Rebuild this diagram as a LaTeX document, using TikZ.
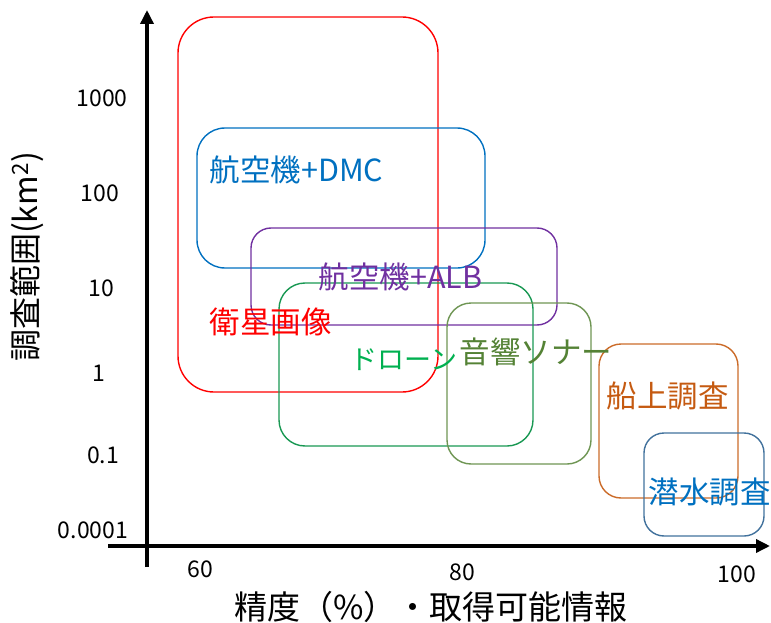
\documentclass[tikz,border=0pt]{standalone}
\usepackage{fontspec}
\setmainfont{Noto Sans CJK JP}
\usetikzlibrary{arrows.meta}
\definecolor{satred}{HTML}{FF0000}
\definecolor{dmcblue}{HTML}{0070C0}
\definecolor{albpurple}{HTML}{7030A0}
\definecolor{dronegreen}{HTML}{00B050}
\definecolor{sonargreen}{HTML}{548235}
\definecolor{shiporange}{HTML}{C55A11}
\definecolor{divebox}{HTML}{41719C}
\tikzset{
	every path/.style={line width=1.4pt},
	regionbox/.style={
		draw,
		rounded corners=22pt,
	},
	axisline/.style={
		line width=3.4pt,
		-{Triangle[length=14pt,width=13pt]}
	},
	ticklabel/.style={
		font=\fontsize{23}{23}\selectfont,
		inner sep=0pt,
	},
	method/.style={
		font=\fontsize{30.5}{30.5}\selectfont,
		inner sep=0pt,
		anchor=west,
	},
	axistitle/.style={
		font=\fontsize{32}{32}\selectfont,
		inner sep=0pt,
	},
}

\begin{document}
\begin{tikzpicture}[x=1pt,y=-1pt]
		\useasboundingbox (0,0) rectangle (771,623);

		% regions
		\draw[regionbox,satred,rounded corners=36pt] (178,17) rectangle (438,392);
		\draw[regionbox,dmcblue,rounded corners=28pt] (197,128) rectangle (485,268);
		\draw[regionbox,albpurple,rounded corners=20pt] (251,228) rectangle (557,325);
		\draw[regionbox,dronegreen!80!black!90,rounded corners=26pt] (279,283) rectangle (533,446);
		\draw[regionbox,sonargreen!85,rounded corners=24pt] (447,303) rectangle (591,464);
		\draw[regionbox,shiporange!90,rounded corners=22pt] (599,344) rectangle (738,498);
		\draw[regionbox,divebox,rounded corners=20pt] (644,433) rectangle (764,536);

		% axes
		\coordinate (ybot) at (147,567);
		\coordinate (ytop) at (147,10);
		\coordinate (xleft) at (108,546);
		\coordinate (xright) at (770,546);
		\draw[axisline] (ybot) -- (ytop);
		\draw[axisline] (xleft) -- (xright);

		\node[ticklabel] (y1000) at (102,98) {1000};
		\node[ticklabel] (y100) at (100,193) {100};
		\node[ticklabel] (y10) at (101,288) {10};
		\node[ticklabel] (y1) at (99,373) {1};
		\node[ticklabel] (y01) at (103,455) {0.1};
		\node[ticklabel] (y00001) at (93,530) {0.0001};

		\node[ticklabel] (x60) at (200,569) {60};
		\node[ticklabel] (x80) at (462,572) {80};
		\node[ticklabel] (x100) at (737,574) {100};

		\node[axistitle,rotate=90] (ytitle) at (27,257) {調査範囲(km\textsuperscript{2})};
		\node[axistitle,font=\fontsize{33}{33}\selectfont] (xtitle) at (431,607) {精度（\%）・取得可能情報};

		% methods
		\node[method,dmcblue] (dmc) at (209,170) {航空機+DMC};
		\node[method,albpurple] (alb) at (318,277) {航空機+ALB};
		\node[method,satred] (sat) at (209,322) {衛星画像};
		\node[method,dronegreen,font=\fontsize{27}{27}\selectfont] (drone) at (350,360) {ドローン};
		\node[method,sonargreen] (sonar) at (459,352) {音響ソナー};
		\node[method,shiporange] (ship) at (606,396) {船上調査};
		\node[method,dmcblue] (dive) at (648,492) {潜水調査};
\end{tikzpicture}
\end{document}
